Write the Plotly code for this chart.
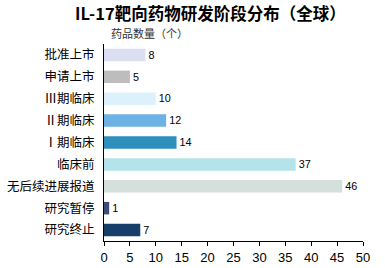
import plotly.graph_objects as go

categories = ["批准上市", "申请上市", "Ⅲ期临床", "Ⅱ期临床", "Ⅰ期临床", "临床前", "无后续进展报道", "研究暂停", "研究终止"]
values = [8, 5, 10, 12, 14, 37, 46, 1, 7]
colors = ["#dcdff2", "#bdbdbd", "#ddf1fc", "#6cb2e4", "#2e8fbd", "#b5e3ea", "#d5e0dd", "#3b4e77", "#163e6a"]
tick_vals = [0, 5, 10, 15, 20, 25, 30, 35, 40, 45, 50]

font_cjk = "Noto Sans CJK SC"

fig = go.Figure(go.Bar(
    x=values, y=categories, orientation="h",
    marker=dict(color=colors, line=dict(width=0)),
    width=0.57,
    text=[str(v) for v in values], textposition="outside",
    textfont=dict(size=13, color="#000000", family="Liberation Sans"),
    cliponaxis=False,
))

fig.update_layout(
    width=385, height=268,
    margin=dict(l=104, r=22, t=44, b=27, autoexpand=False),
    paper_bgcolor="white", plot_bgcolor="white",
    showlegend=False,
)
fig.layout.annotations = [
    dict(text="<b>IL-17靶向药物研发阶段分布（全球）</b>", xref="paper", yref="paper",
         x=(210 - 104) / 259, y=1 + (44 - 13) / 197, xanchor="center", yanchor="middle",
         showarrow=False, font=dict(size=16.5, color="#000000", family=font_cjk)),
    dict(text="药品数量（个）", xref="paper", yref="paper", x=(149 - 104) / 259, y=1 + (44 - 33) / 197,
         xanchor="center", yanchor="middle", showarrow=False,
         font=dict(size=11, color="#333333", family=font_cjk)),
]

fig.update_xaxes(range=[0, 50], tickvals=tick_vals, showgrid=False, zeroline=False,
                 showline=True, linecolor="#000000", linewidth=1, automargin=False,
                 ticks="outside", ticklen=4, tickcolor="#000000",
                 tickfont=dict(size=13, color="#000000", family="Liberation Sans"))
fig.update_yaxes(autorange="reversed", showgrid=False, zeroline=False, automargin=False,
                 showline=True, linecolor="#000000", linewidth=1, ticks="",
                 ticklabelstandoff=6,
                 tickfont=dict(size=12.5, color="#000000", family=font_cjk))

fig.write_html("out.html")
